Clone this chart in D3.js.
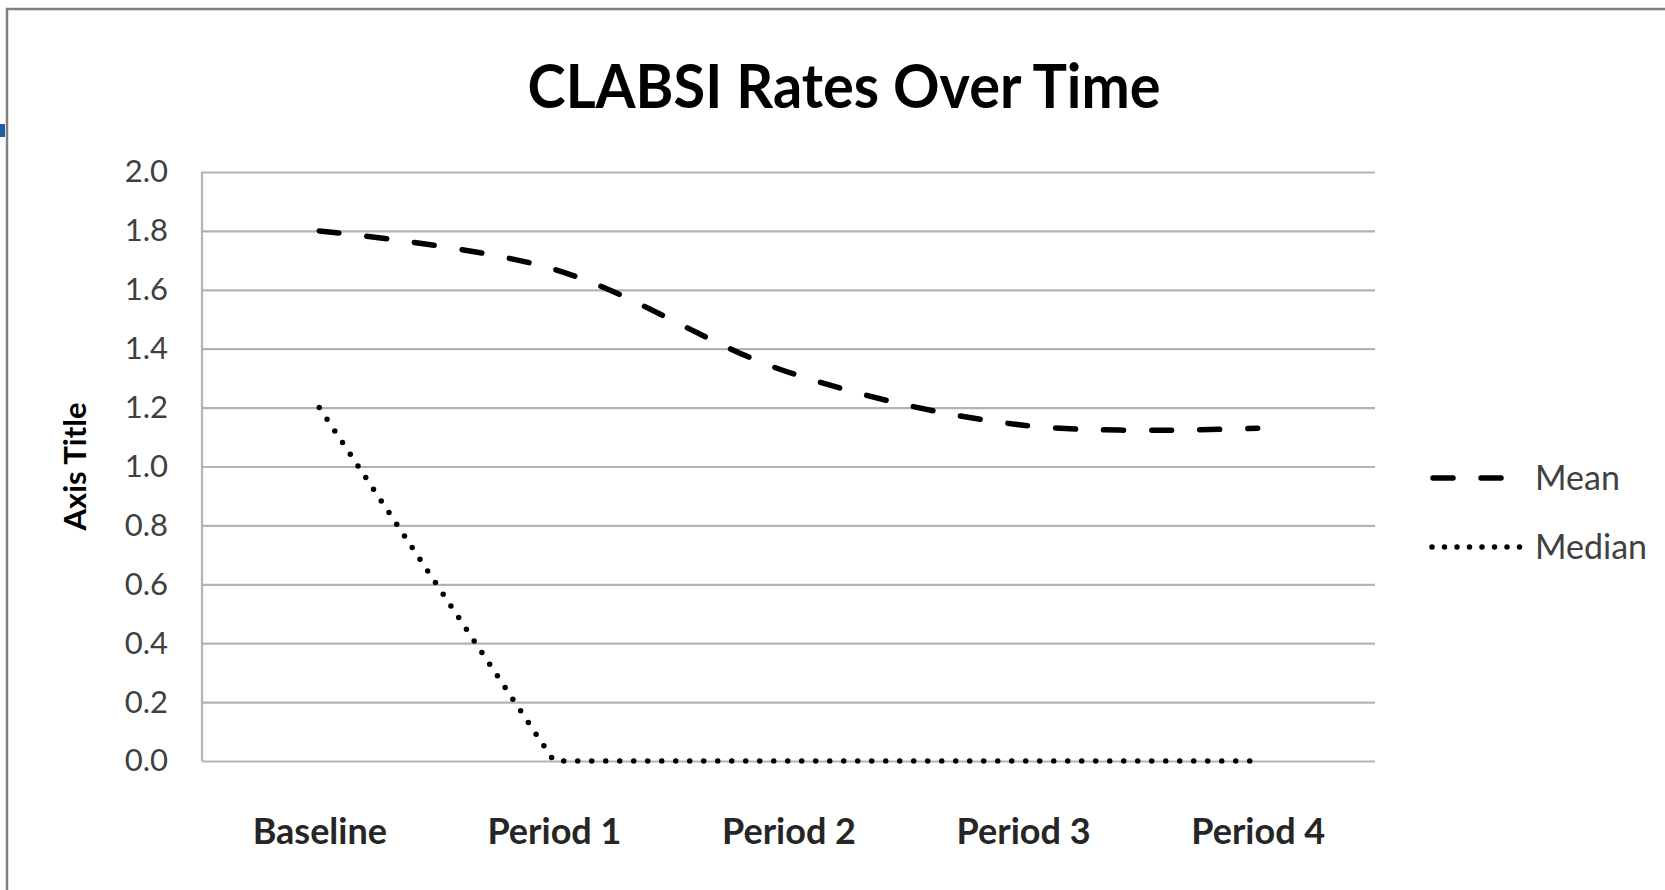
<!DOCTYPE html>
<html>
<head>
<meta charset="utf-8">
<script src="https://cdn.jsdelivr.net/npm/d3@7"></script>
<style>
  body { margin: 0; background: #fff; }
  text { font-family: Lato, "Open Sans", sans-serif; }
</style>
</head>
<body>
<svg id="chart" width="1665" height="890"></svg>
<script>
// data
const categories = ["Baseline", "Period 1", "Period 2", "Period 3", "Period 4"];
const meanValues = [1.80, 1.67, 1.32, 1.14, 1.13];
const medianValues = [1.2, 0, 0, 0, 0];
const yTicks = [0, 0.2, 0.4, 0.6, 0.8, 1.0, 1.2, 1.4, 1.6, 1.8, 2.0];
const seriesNames = ["Mean", "Median"];

const svg = d3.select("#chart");

const plot = { left: 202, right: 1375, top: 172, bottom: 761 };

// outer frame and the little blue tab on the left
svg.append("rect")
    .attr("x", 7).attr("y", 9)
    .attr("width", 1720).attr("height", 920)
    .attr("fill", "#fff")
    .attr("stroke", "#808080")
    .attr("stroke-width", 2.5);
svg.append("rect")
    .attr("x", 0).attr("y", 124)
    .attr("width", 5).attr("height", 13)
    .attr("fill", "#1f5fa8");

const x = d3.scalePoint()
    .domain(categories)
    .range([plot.left, plot.right])
    .padding(0.5);

const y = d3.scaleLinear()
    .domain([0, 2])
    .range([plot.bottom, plot.top]);

// gridlines + y labels
const yAxis = svg.append("g")
    .attr("transform", `translate(${plot.left},0)`)
    .call(d3.axisLeft(y)
        .tickValues(yTicks)
        .tickFormat(d3.format(".1f"))
        .tickSize(-(plot.right - plot.left))
        .tickPadding(34));
yAxis.select(".domain").remove();
yAxis.selectAll(".tick line")
    .attr("stroke", "#b3b3b3")
    .attr("stroke-width", 2.2);
yAxis.selectAll(".tick text")
    .attr("fill", "#404040")
    .style("font-size", "31px");

// left axis line
svg.append("line")
    .attr("x1", plot.left).attr("x2", plot.left)
    .attr("y1", plot.top).attr("y2", plot.bottom)
    .attr("stroke", "#b3b3b3")
    .attr("stroke-width", 2.2);

// x labels
const xAxis = svg.append("g")
    .attr("transform", `translate(0,${plot.bottom})`)
    .call(d3.axisBottom(x).tickSize(0).tickPadding(0));
xAxis.select(".domain").remove();
xAxis.selectAll(".tick text")
    .attr("dy", 0)
    .attr("y", 83)
    .attr("fill", "#262626")
    .style("font-size", "36px")
    .style("font-weight", "bold");

// lines
const meanLine = d3.line()
    .x((d, i) => x(categories[i]))
    .y(d => y(d))
    .curve(d3.curveCatmullRom.alpha(0.5));

const medianLine = d3.line()
    .x((d, i) => x(categories[i]))
    .y(d => y(d));

svg.append("path")
    .datum(meanValues)
    .attr("d", meanLine)
    .attr("fill", "none")
    .attr("stroke", "#000")
    .attr("stroke-width", 5.5)
    .attr("stroke-linecap", "round")
    .attr("stroke-dasharray", "20 28");

svg.append("path")
    .datum(medianValues)
    .attr("d", medianLine)
    .attr("fill", "none")
    .attr("stroke", "#000")
    .attr("stroke-width", 5.5)
    .attr("stroke-linecap", "round")
    .attr("stroke-dasharray", "0 14");

// title
svg.append("text")
    .attr("x", 844)
    .attr("y", 108)
    .attr("text-anchor", "middle")
    .attr("fill", "#000")
    .attr("textLength", 633)
    .attr("lengthAdjust", "spacingAndGlyphs")
    .style("font-size", "62px")
    .style("font-weight", "bold")
    .text("CLABSI Rates Over Time");

// y axis title
svg.append("text")
    .attr("transform", `translate(86,${(plot.top + plot.bottom) / 2}) rotate(-90)`)
    .attr("text-anchor", "middle")
    .attr("fill", "#000")
    .style("font-size", "31px")
    .style("font-weight", "bold")
    .text("Axis Title");

// legend
const legend = svg.append("g");
const legendDash = ["20 28", "0 12.5"];
seriesNames.forEach((name, i) => {
    const ly = 478 + i * 69;
    legend.append("line")
        .attr("x1", i === 0 ? 1433 : 1432)
        .attr("x2", i === 0 ? 1505 : 1520)
        .attr("y1", ly).attr("y2", ly)
        .attr("stroke", "#000")
        .attr("stroke-width", 5.5)
        .attr("stroke-linecap", "round")
        .attr("stroke-dasharray", legendDash[i]);
    legend.append("text")
        .attr("x", 1535)
        .attr("y", ly + 12)
        .attr("fill", "#404040")
        .style("font-size", "34px")
        .text(name);
});
</script>
</body>
</html>
